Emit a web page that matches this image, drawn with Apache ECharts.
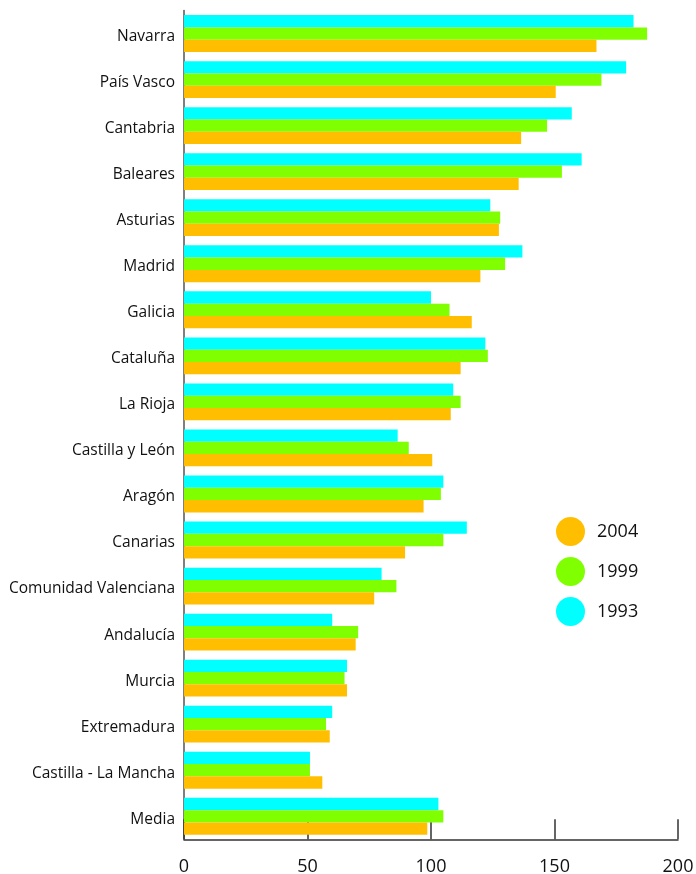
<!DOCTYPE html>
<html>
<head>
<meta charset="utf-8">
<style>
  html, body { margin: 0; padding: 0; background: #fff; }
  #main { width: 696px; height: 874px; }
</style>
<script src="https://cdn.jsdelivr.net/npm/echarts@6/dist/echarts.min.js"></script>
</head>
<body>
<div id="main"></div>
<script>
// regiones, de arriba abajo
var regiones = ['Navarra', 'País Vasco', 'Cantabria', 'Baleares', 'Asturias', 'Madrid',
  'Galicia', 'Cataluña', 'La Rioja', 'Castilla y León', 'Aragón', 'Canarias',
  'Comunidad Valenciana', 'Andalucía', 'Murcia', 'Extremadura', 'Castilla - La Mancha', 'Media'];

var datos1993 = [182, 179, 157, 161, 124, 137, 100, 122, 109, 86.5, 105, 114.5, 80, 60, 66, 60, 51, 103];
var datos1999 = [187.5, 169, 147, 153, 128, 130, 107.5, 123, 112, 91, 104, 105, 86, 70.5, 65, 57.5, 51, 105];
var datos2004 = [167, 150.5, 136.5, 135.5, 127.5, 120, 116.5, 112, 108, 100.5, 97, 89.5, 77, 69.5, 66, 59, 56, 98.5];

var ticks = [0, 50, 100, 150, 200];

var fuente = '"Open Sans", "DejaVu Sans", sans-serif';

var myChart = echarts.init(document.getElementById('main'));
myChart.setOption({
    animation: false,
    grid: {
        left: 184,
        right: 18,
        top: 10.5,
        bottom: 34.7,
        containLabel: false,
        outerBoundsMode: 'none'
    },
    legend: {
        data: ['2004', '1999', '1993'],
        orient: 'vertical',
        left: 551,
        top: 512,
        icon: 'circle',
        itemWidth: 43,
        itemHeight: 29,
        itemGap: 11,
        textStyle: { fontFamily: fuente, fontSize: 18, color: '#111' }
    },
    xAxis: {
        type: 'value',
        min: ticks[0],
        max: ticks[ticks.length - 1],
        interval: 50,
        splitLine: { show: false },
        axisLine: { show: true, lineStyle: { color: '#333', width: 1.5 } },
        axisTick: { show: true, inside: true, length: 20, lineStyle: { color: '#333', width: 1.5 } },
        axisLabel: { margin: 19, fontFamily: fuente, fontSize: 18, color: '#111' }
    },
    yAxis: {
        type: 'category',
        inverse: true,
        data: regiones,
        axisLine: { show: true, lineStyle: { color: '#555', width: 1.5 } },
        axisTick: { show: false },
        axisLabel: {
            margin: 9,
            formatter: function (v) { return '{r|' + v + '}'; },
            rich: {
                r: { padding: [6, 0, 0, 0], fontFamily: fuente, fontSize: 15.5, color: '#111' }
            }
        }
    },
    series: [
        {
            name: '1993',
            type: 'bar',
            data: datos1993,
            itemStyle: { color: '#00FFFF' },
            barGap: '0%',
            barCategoryGap: '20%'
        },
        {
            name: '1999',
            type: 'bar',
            data: datos1999,
            itemStyle: { color: '#7FFF00' }
        },
        {
            name: '2004',
            type: 'bar',
            data: datos2004,
            itemStyle: { color: '#FFBF00' }
        }
    ]
});
</script>
</body>
</html>
